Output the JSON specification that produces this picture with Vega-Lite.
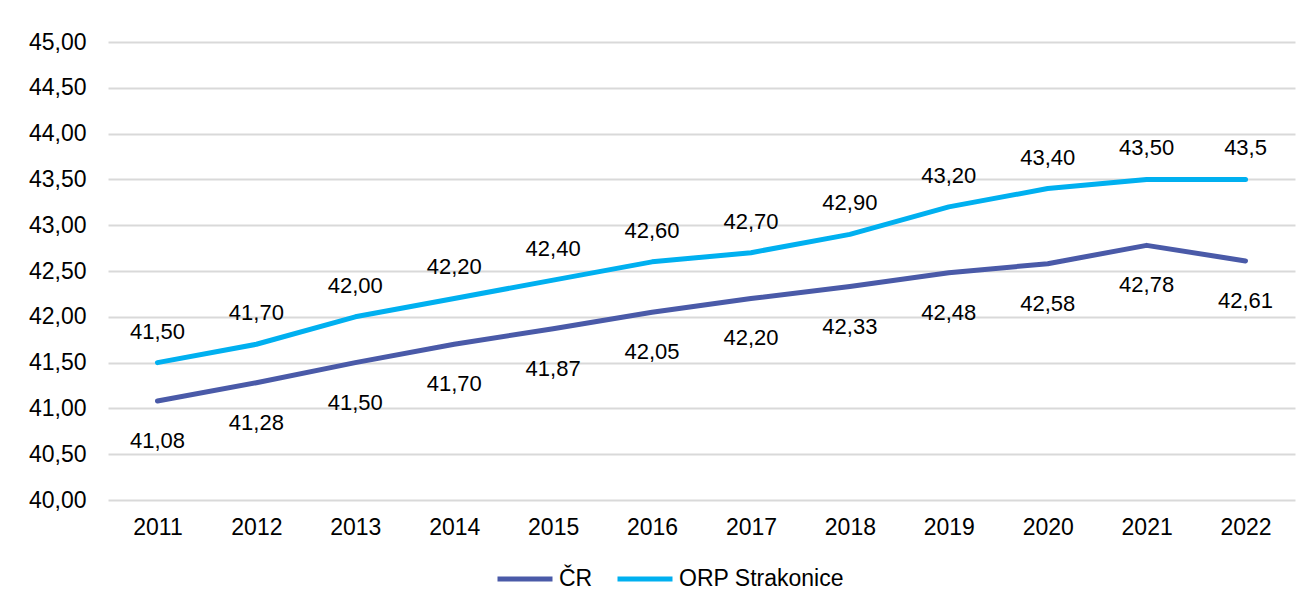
{
  "$schema": "https://vega.github.io/schema/vega-lite/v6.json",
  "width": 1187,
  "height": 458,
  "autosize": "none",
  "padding": {"left": 108, "top": 42, "right": 16, "bottom": 110},
  "background": "white",
  "config": {
    "font": "Liberation Sans",
    "view": {"stroke": null},
    "locale": {"number": {"decimal": ",", "thousands": " ", "grouping": [3], "currency": ["", " Kč"]}}
  },
  "data": {
    "values": [
      {"year": "2011", "series": "ČR", "value": 41.08, "label": "41,08"},
      {"year": "2012", "series": "ČR", "value": 41.28, "label": "41,28"},
      {"year": "2013", "series": "ČR", "value": 41.50, "label": "41,50"},
      {"year": "2014", "series": "ČR", "value": 41.70, "label": "41,70"},
      {"year": "2015", "series": "ČR", "value": 41.87, "label": "41,87"},
      {"year": "2016", "series": "ČR", "value": 42.05, "label": "42,05"},
      {"year": "2017", "series": "ČR", "value": 42.20, "label": "42,20"},
      {"year": "2018", "series": "ČR", "value": 42.33, "label": "42,33"},
      {"year": "2019", "series": "ČR", "value": 42.48, "label": "42,48"},
      {"year": "2020", "series": "ČR", "value": 42.58, "label": "42,58"},
      {"year": "2021", "series": "ČR", "value": 42.78, "label": "42,78"},
      {"year": "2022", "series": "ČR", "value": 42.61, "label": "42,61"},
      {"year": "2011", "series": "ORP Strakonice", "value": 41.50, "label": "41,50"},
      {"year": "2012", "series": "ORP Strakonice", "value": 41.70, "label": "41,70"},
      {"year": "2013", "series": "ORP Strakonice", "value": 42.00, "label": "42,00"},
      {"year": "2014", "series": "ORP Strakonice", "value": 42.20, "label": "42,20"},
      {"year": "2015", "series": "ORP Strakonice", "value": 42.40, "label": "42,40"},
      {"year": "2016", "series": "ORP Strakonice", "value": 42.60, "label": "42,60"},
      {"year": "2017", "series": "ORP Strakonice", "value": 42.70, "label": "42,70"},
      {"year": "2018", "series": "ORP Strakonice", "value": 42.90, "label": "42,90"},
      {"year": "2019", "series": "ORP Strakonice", "value": 43.20, "label": "43,20"},
      {"year": "2020", "series": "ORP Strakonice", "value": 43.40, "label": "43,40"},
      {"year": "2021", "series": "ORP Strakonice", "value": 43.50, "label": "43,50"},
      {"year": "2022", "series": "ORP Strakonice", "value": 43.5, "label": "43,5"}
    ]
  },
  "encoding": {
    "x": {
      "field": "year", "type": "ordinal",
      "scale": {"type": "point", "padding": 0.5},
      "axis": {"title": null, "labelAngle": 0, "labelFontSize": 23, "labelColor": "#000000", "domain": false, "ticks": false, "labelPadding": 16, "grid": false}
    },
    "y": {
      "field": "value", "type": "quantitative",
      "scale": {"domain": [40, 45], "nice": false, "zero": false},
      "axis": {"title": null, "values": [40, 40.5, 41, 41.5, 42, 42.5, 43, 43.5, 44, 44.5, 45], "format": ".2f", "labelFontSize": 23, "labelColor": "#000000", "domain": false, "ticks": false, "labelPadding": 22, "grid": true, "gridColor": "#d9d9d9", "gridWidth": 2}
    }
  },
  "layer": [
    {
      "mark": {"type": "line", "strokeWidth": 5, "strokeCap": "round", "strokeJoin": "round"},
      "encoding": {
        "color": {
          "field": "series", "type": "nominal",
          "scale": {"domain": ["ČR", "ORP Strakonice"], "range": ["#4A5AA8", "#00B0F0"]},
          "legend": {"title": null, "orient": "none", "legendX": 387, "legendY": 507, "direction": "horizontal", "symbolType": "stroke", "symbolSize": 3025, "symbolStrokeWidth": 5, "labelFontSize": 23, "labelColor": "#000000", "labelOffset": 4, "labelLimit": 0, "columnPadding": 14}
        }
      }
    },
    {
      "transform": [{"filter": "datum.series === 'ORP Strakonice'"}],
      "mark": {"type": "text", "dy": -31, "fontSize": 22, "color": "#000000", "baseline": "middle"},
      "encoding": {"text": {"field": "label"}}
    },
    {
      "transform": [{"filter": "datum.series === 'ČR'"}],
      "mark": {"type": "text", "dy": 40, "fontSize": 22, "color": "#000000", "baseline": "middle"},
      "encoding": {"text": {"field": "label"}}
    }
  ]
}
